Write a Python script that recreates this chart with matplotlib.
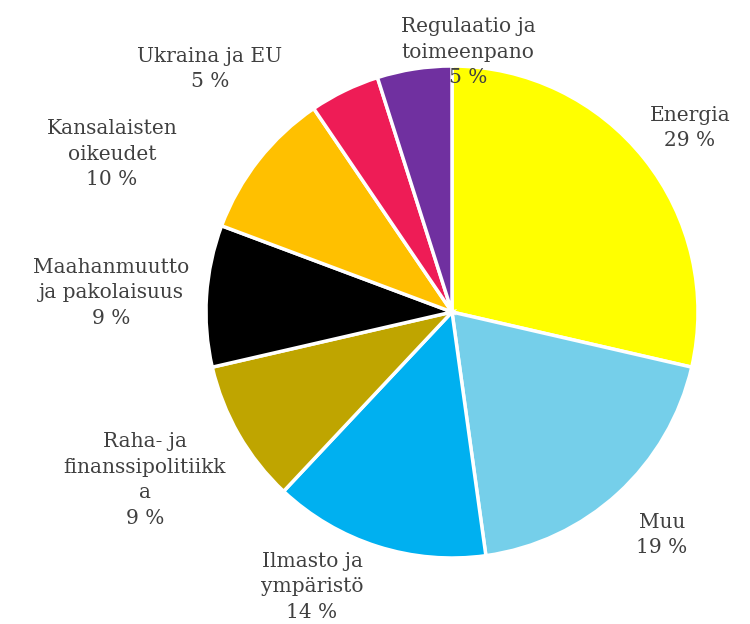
import matplotlib.pyplot as plt

labels = ['Energia', 'Muu', 'Ilmasto ja\nympäristö', 'Raha- ja\nfinanssipolitiikk\na',
          'Maahanmuutto\nja pakolaisuus', 'Kansalaisten\noikeudet', 'Ukraina ja EU',
          'Regulaatio ja\ntoimeenpano']
values = [28.6, 19.2, 14.2, 9.4, 9.3, 9.8, 4.6, 4.9]
colors = ['#FFFF00', '#75CFEA', '#00B0F0', '#BFA500', '#000000', '#FFC000', '#EE1C56', '#7030A0']

# label centres in pixels of the 750x624 picture
lbl_px = [(690, 128), (662, 535), (312, 587), (145, 480),
          (111, 293), (112, 154), (210, 69), (468, 52)]

W, H = 750, 624
cx, cy, R = 452, 312, 246

fig = plt.figure(figsize=(W / 100, H / 100), dpi=100)
ax = fig.add_axes([0, 0, 1, 1])
ax.pie(values, colors=colors, startangle=90, counterclock=False, radius=1,
       wedgeprops=dict(edgecolor='white', linewidth=2.5))
ax.set_xlim(-cx / R, (W - cx) / R)
ax.set_ylim(-(H - cy) / R, cy / R)
ax.set_aspect('equal')
ax.axis('off')

for lab, v, (px, py) in zip(labels, values, lbl_px):
    ax.text((px - cx) / R, (cy - py) / R, f'{lab}\n{v:.0f} %', ha='center', va='center',
            fontsize=14.5, family='DejaVu Serif', color='#404040', linespacing=1.45)

fig.savefig('out.png', dpi=100)
